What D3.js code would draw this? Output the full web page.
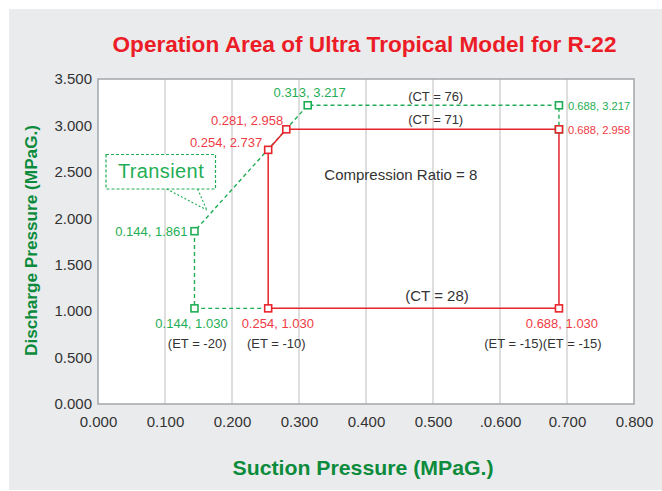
<!DOCTYPE html>
<html>
<head>
<meta charset="utf-8">
<script src="https://cdnjs.cloudflare.com/ajax/libs/d3/7.8.5/d3.min.js"></script>
<style>
  body { margin: 0; background: #fff; }
  svg { display: block; font-family: "Liberation Sans", Arial, sans-serif; }
</style>
</head>
<body>
<svg id="viz" width="662" height="491"></svg>
<script>
// operating envelope (red, solid) - suction / discharge pressure in MPaG
var operX = [0.254, 0.254, 0.281, 0.688, 0.688, 0.254];
var operY = [1.030, 2.737, 2.958, 2.958, 1.030, 1.030];

// transient envelope (green, dashed)
var transX = [0.254, 0.144, 0.144, 0.313, 0.688, 0.688];
var transY = [1.030, 1.030, 1.861, 3.217, 3.217, 2.958];

var xTicks = [0, 0.1, 0.2, 0.3, 0.4, 0.5, 0.6, 0.7, 0.8];
var xTickLabels = ["0.000", "0.100", "0.200", "0.300", "0.400", "0.500", ".0.600", "0.700", "0.800"];
var yTicks = [0, 0.5, 1, 1.5, 2, 2.5, 3, 3.5];

// annotation texts with their spot in data units
var noteText = ["(CT = 76)", "(CT = 71)", "(CT = 28)", "Compression Ratio = 8",
  "(ET = -20)", "(ET = -10)", "(ET = -15)(ET = -15)"];
var noteX = [0.504, 0.504, 0.506, 0.452, 0.148, 0.266, 0.664];
var noteY = [3.264, 3.016, 1.112, 2.412, 0.603, 0.603, 0.603];

var svg = d3.select("#viz"),
  width = +svg.attr("width"),
  height = +svg.attr("height");

var red = "#e8232c", redLbl = "#ef3b45", green = "#1fae55", darkGreen = "#0d8b3c", ink = "#333";

var m = { left: 98, right: 634, top: 79, bottom: 404 };
var x = d3.scaleLinear().domain([0, 0.8]).range([m.left, m.right]);
var y = d3.scaleLinear().domain([0, 3.5]).range([m.bottom, m.top]);

// panel
svg.append("rect").attr("x", 9).attr("y", 9).attr("width", width - 9).attr("height", 481).attr("fill", "#eaebed");
svg.append("rect").attr("x", m.left).attr("y", m.top)
  .attr("width", m.right - m.left).attr("height", m.bottom - m.top).attr("fill", "#fff");

// vertical grid
svg.append("g").selectAll("line")
  .data(xTicks.slice(1, -1))
  .enter().append("line")
  .attr("x1", function(d) { return x(d); })
  .attr("x2", function(d) { return x(d); })
  .attr("y1", m.top).attr("y2", m.bottom)
  .attr("stroke", "#bdbdbd").attr("stroke-width", 1);

svg.append("rect").attr("x", m.left).attr("y", m.top)
  .attr("width", m.right - m.left).attr("height", m.bottom - m.top)
  .attr("fill", "none").attr("stroke", "#a3a6aa").attr("stroke-width", 1.5);

// axes
var xAxis = svg.append("g")
  .attr("transform", "translate(0," + m.bottom + ")")
  .call(d3.axisBottom(x).tickValues(xTicks).tickSize(0).tickPadding(12)
    .tickFormat(function(d, i) { return xTickLabels[i]; }));
var yAxis = svg.append("g")
  .attr("transform", "translate(" + m.left + ",0)")
  .call(d3.axisLeft(y).tickValues(yTicks).tickSize(0).tickPadding(6).tickFormat(d3.format(".3f")));
[xAxis, yAxis].forEach(function(a) {
  a.select(".domain").remove();
  a.selectAll("text").attr("font-size", 15).attr("fill", ink)
    .attr("font-family", "Liberation Sans, Arial, sans-serif");
});

// title and axis labels
svg.append("text").attr("x", 364.5).attr("y", 52).attr("text-anchor", "middle")
  .attr("font-size", 22).attr("font-weight", "bold").attr("fill", "#ec1c27")
  .attr("textLength", 504).attr("lengthAdjust", "spacingAndGlyphs")
  .text("Operation Area of Ultra Tropical Model for R-22");
svg.append("text").attr("x", 363).attr("y", 475).attr("text-anchor", "middle")
  .attr("font-size", 21).attr("font-weight", "bold").attr("fill", darkGreen)
  .attr("textLength", 261).attr("lengthAdjust", "spacingAndGlyphs")
  .text("Suction Pressure (MPaG.)");
svg.append("text").attr("transform", "translate(37,240.5) rotate(-90)")
  .attr("text-anchor", "middle")
  .attr("font-size", 17).attr("font-weight", "bold").attr("fill", darkGreen)
  .attr("textLength", 231).attr("lengthAdjust", "spacingAndGlyphs")
  .text("Discharge Pressure (MPaG.)");

var line = d3.line()
  .x(function(d) { return x(d[0]); })
  .y(function(d) { return y(d[1]); });

var transPts = transX.map(function(v, i) { return [v, transY[i]]; });
var operPts = operX.map(function(v, i) { return [v, operY[i]]; });

svg.append("path").datum(transPts).attr("d", line)
  .attr("fill", "none").attr("stroke", green).attr("stroke-width", 1.4).attr("stroke-dasharray", "4,3");
svg.append("path").datum(operPts).attr("d", line)
  .attr("fill", "none").attr("stroke", red).attr("stroke-width", 1.5);

function markers(pts, col) {
  svg.append("g").selectAll("rect")
    .data(pts)
    .enter().append("rect")
    .attr("x", function(d) { return x(d[0]) - 3.5; })
    .attr("y", function(d) { return y(d[1]) - 3.5; })
    .attr("width", 7).attr("height", 7)
    .attr("fill", "#fff").attr("stroke", col).attr("stroke-width", 1.6);
}
markers(transPts.slice(1), green);
markers(operPts.slice(0, 5), red);

// point value labels
var ptLabels = [
  { p: [0.313, 3.217], c: green, dx: 2, dy: -8, a: "middle" },
  { p: [0.688, 3.217], c: green, dx: 9, dy: 5, a: "start", fs: 11.2 },
  { p: [0.688, 2.958], c: redLbl, dx: 9, dy: 5, a: "start", fs: 11.2 },
  { p: [0.281, 2.958], c: redLbl, dx: -3, dy: -4, a: "end" },
  { p: [0.254, 2.737], c: redLbl, dx: -6, dy: -2.5, a: "end" },
  { p: [0.144, 1.861], c: green, dx: -7, dy: 5, a: "end" },
  { p: [0.144, 1.030], c: green, dx: -3, dy: 20, a: "middle" },
  { p: [0.254, 1.030], c: redLbl, dx: 9.6, dy: 20, a: "middle" },
  { p: [0.688, 1.030], c: redLbl, dx: 3, dy: 20, a: "middle" }
];
svg.append("g").selectAll("text")
  .data(ptLabels)
  .enter().append("text")
  .attr("x", function(d) { return x(d.p[0]) + d.dx; })
  .attr("y", function(d) { return y(d.p[1]) + d.dy; })
  .attr("text-anchor", function(d) { return d.a; })
  .attr("font-size", function(d) { return d.fs || 13; })
  .attr("fill", function(d) { return d.c; })
  .text(function(d) { return d3.format(".3f")(d.p[0]) + ", " + d3.format(".3f")(d.p[1]); });

// notes
svg.append("g").selectAll("text")
  .data(noteText)
  .enter().append("text")
  .attr("x", function(d, i) { return x(noteX[i]); })
  .attr("y", function(d, i) { return y(noteY[i]); })
  .attr("text-anchor", "middle")
  .attr("font-size", function(d, i) { return (i === 2 || i === 3) ? 15 : 13; })
  .attr("fill", ink)
  .text(function(d) { return d; });

// transient callout
svg.append("rect").attr("x", 106).attr("y", 154.5).attr("width", 109.5).attr("height", 34.5)
  .attr("fill", "#fff").attr("stroke", green).attr("stroke-width", 1.2).attr("stroke-dasharray", "3,2");
svg.append("text").attr("x", 161).attr("y", 178).attr("text-anchor", "middle")
  .attr("font-size", 20).attr("fill", green).attr("letter-spacing", 0.4).text("Transient");
svg.append("path")
  .attr("d", "M166.7,189L206.7,210M197.7,189L206.7,210")
  .attr("fill", "none").attr("stroke", green).attr("stroke-width", 1.1).attr("stroke-dasharray", "2,2");
</script>
</body>
</html>
